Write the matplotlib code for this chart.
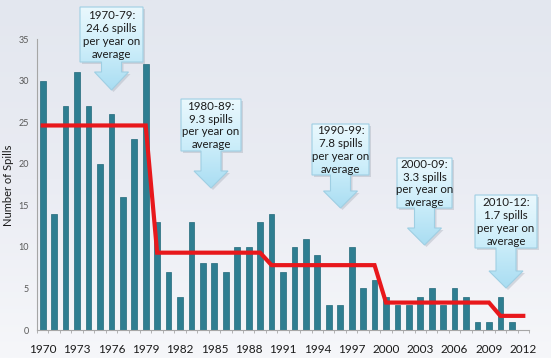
import numpy as np
import matplotlib
matplotlib.use("Agg")
import matplotlib.pyplot as plt
from matplotlib.patches import Polygon
from matplotlib.colors import LinearSegmentedColormap

plt.rcParams['font.family'] = ['Lato', 'DejaVu Sans']

# ---- data ----
years = list(range(1970, 2013))
spills = [30, 14, 27, 31, 27, 20, 26, 16, 23, 32,
          13, 7, 4, 13, 8, 8, 7, 10, 10, 13,
          14, 7, 10, 11, 9, 3, 3, 10, 5, 6,
          4, 3, 3, 4, 5, 3, 5, 4, 1, 1,
          4, 1, 0]
period_labels = ["1970-79", "1980-89", "1990-99", "2000-09", "2010-12"]
period_starts = [1970, 1980, 1990, 2000, 2010]
period_ends = [1979, 1989, 1999, 2009, 2012]
period_avgs = [24.6, 9.3, 7.8, 3.3, 1.7]
xtick_years = list(range(1970, 2013, 3))
yticks = [0, 5, 10, 15, 20, 25, 30, 35]

avg_line = []
for y in years:
    for s, e, a in zip(period_starts, period_ends, period_avgs):
        if s <= y <= e:
            avg_line.append(a)

W, H = 551, 358
fig = plt.figure(figsize=(W / 100, H / 100), dpi=100)

# background gradient
bg = fig.add_axes([0, 0, 1, 1], zorder=-10)
grad = np.linspace(0, 1, 256).reshape(-1, 1)
bg_cmap = LinearSegmentedColormap.from_list("bg", ["#E3E7EF", "#EAECF3", "#F6F7FA"])
bg.imshow(grad, aspect='auto', cmap=bg_cmap, extent=[0, 1, 0, 1], origin='upper')
bg.set_axis_off()

ax = fig.add_axes([37 / W, 1 - 330 / H, (529 - 37) / W, (330 - 39) / H])
ax.set_facecolor('none')
ax.bar(years, spills, width=0.5, color='#2E7E91', edgecolor='#22697A', linewidth=0.5, zorder=2)
ax.plot(years, avg_line, color='#E8181C', linewidth=3.0, zorder=3, solid_joinstyle='miter')

ax.set_xlim(1969.5, 2012.5)
ax.set_ylim(0, 35)
ax.set_yticks(yticks)
ax.set_yticklabels([str(v) for v in yticks], fontsize=6.5, color='#595959')
ax.tick_params(axis='y', length=0, pad=6)
ax.set_xticks(xtick_years)
ax.set_xticklabels([str(v) for v in xtick_years], fontsize=8.5, color='#1a1a1a')
ax.set_xticks(np.arange(1969.5, 2013, 1), minor=True)
ax.tick_params(axis='x', which='major', length=0, pad=10)
ax.tick_params(axis='x', which='minor', length=2.5, color='#A6A6A6', width=0.6)
for s in ['top', 'right']:
    ax.spines[s].set_visible(False)
for s in ['left', 'bottom']:
    ax.spines[s].set_color('#A6A6A6')
    ax.spines[s].set_linewidth(0.8)
fig.text(9 / W, 1 - 185 / H, "Number of Spills", rotation=90, ha='center', va='center',
         fontsize=8, color='#1a1a1a')

# overlay for callouts (pixel coords)
ov = fig.add_axes([0, 0, 1, 1], zorder=5)
ov.set_xlim(0, W)
ov.set_ylim(H, 0)
ov.set_axis_off()
ov.patch.set_alpha(0)

boxes = [(80, 7, 143, 62, 90, 72),
         (181, 99, 241, 151, 188, 171),
         (312, 124, 369, 175, 208, 191),
         (397, 158, 452, 208, 245, 228),
         (475, 195, 537, 248, 288, 271)]
call_cmap = LinearSegmentedColormap.from_list("cb", ["#EAF8FD", "#CDEEFA", "#A9DDF2"])
for (x0, y0, x1, y1, tip, hs), lab, avg in zip(boxes, period_labels, period_avgs):
    cx = (x0 + x1) / 2
    sw, hw = 10, 17
    pts = [(x0, y0), (x1, y0), (x1, y1), (cx + sw, y1), (cx + sw, hs), (cx + hw, hs),
           (cx, tip), (cx - hw, hs), (cx - sw, hs), (cx - sw, y1), (x0, y1)]
    shadow = Polygon([(px + 2, py + 2) for px, py in pts], closed=True,
                     facecolor='#9aa3b0', edgecolor='none', alpha=0.35, zorder=1)
    ov.add_patch(shadow)
    poly = Polygon(pts, closed=True, facecolor='none', edgecolor='#9FCFE3', linewidth=0.8, zorder=3)
    ov.add_patch(poly)
    im = ov.imshow(grad, aspect='auto', cmap=call_cmap, extent=[x0, x1, tip, y0], zorder=2)
    im.set_clip_path(poly)
    ov.text(cx, (y0 + y1) / 2 + 0.5, f"{lab}:\n{avg} spills\nper year on\naverage",
            ha='center', va='center', fontsize=8.3, color='#1a1a1a', linespacing=1.2, zorder=4)

ov.set_xlim(0, W)
ov.set_ylim(H, 0)

fig.savefig("out.png", dpi=100)
